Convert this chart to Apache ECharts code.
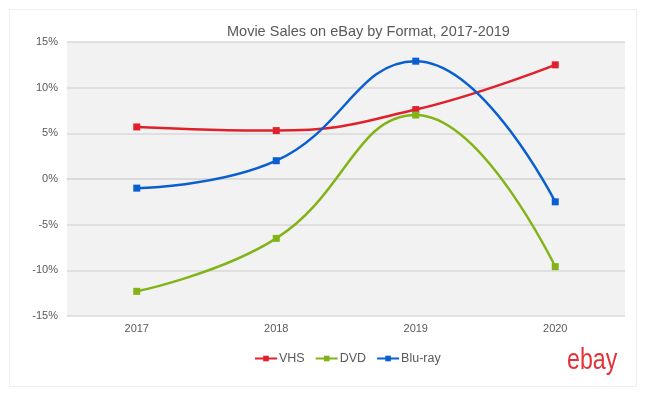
<!DOCTYPE html>
<html>
<head>
<meta charset="utf-8">
<script src="https://cdn.jsdelivr.net/npm/echarts@6/dist/echarts.min.js"></script>
<style>
  html, body { margin: 0; padding: 0; background: #fff; }
  #chart { width: 646px; height: 397px; }
</style>
</head>
<body>
<div id="chart"></div>
<script>
// years on the x axis
var years = ['2017', '2018', '2019', '2020'];
// year-over-year change, percent
var vhs = [5.7, 5.3, 7.6, 12.5];
var dvd = [-12.3, -6.5, 7.0, -9.6];
var bluray = [-1.0, 2.0, 12.9, -2.5];

var textColor = '#595959';

function lineSeries(name, data, color) {
    return {
        name: name,
        type: 'line',
        data: data,
        smooth: 0.45,
        symbol: 'rect',
        symbolSize: 7,
        lineStyle: { width: 2.5, color: color },
        itemStyle: { color: color }
    };
}

var option = {
    animation: false,
    title: {
        text: 'Movie Sales on eBay by Format, 2017-2019',
        left: 222,
        top: 19,
        textStyle: { color: textColor, fontSize: 14.5, fontWeight: 'normal', fontFamily: 'Liberation Sans' }
    },
    legend: {
        top: 347,
        left: 249,
        itemWidth: 22,
        itemHeight: 7,
        itemGap: 10,
        textStyle: { color: textColor, fontSize: 12.5, fontFamily: 'Liberation Sans', padding: [0, 0, 0, -3] },
        data: ['VHS', 'DVD', 'Blu-ray']
    },
    grid: {
        left: 67, right: 21, top: 42, bottom: 81,
        show: true, backgroundColor: '#f2f2f2', borderWidth: 0
    },
    xAxis: {
        type: 'category',
        data: years,
        boundaryGap: true,
        axisLine: { lineStyle: { color: '#d9d9d9', width: 1.5 } },
        axisTick: { show: false },
        axisLabel: { color: textColor, fontSize: 11, margin: 7, fontFamily: 'Liberation Sans' }
    },
    yAxis: {
        type: 'value',
        min: -15, max: 15, interval: 5,
        axisLine: { show: false },
        axisTick: { show: false },
        splitLine: { lineStyle: { color: '#d9d9d9', width: 1.5 } },
        axisLabel: { color: textColor, fontSize: 11, margin: 9, formatter: '{value}%', fontFamily: 'Liberation Sans' }
    },
    graphic: [
        {
            type: 'rect',
            shape: { x: 9.5, y: 9.5, width: 627, height: 377 },
            style: { fill: 'none', stroke: '#eeeeee', lineWidth: 1 },
            silent: true
        },
        {
            type: 'text',
            x: 567,
            y: 346,
            scaleX: 0.8,
            style: { text: 'ebay', fill: '#e53238', fontSize: 29, fontFamily: 'Liberation Sans', letterSpacing: -2 }
        }
    ],
    series: [
        lineSeries('VHS', vhs, '#e0202b'),
        lineSeries('DVD', dvd, '#82b417'),
        lineSeries('Blu-ray', bluray, '#0a5fd0')
    ]
};

var chart = echarts.init(document.getElementById('chart'));
chart.setOption(option);
</script>
</body>
</html>
